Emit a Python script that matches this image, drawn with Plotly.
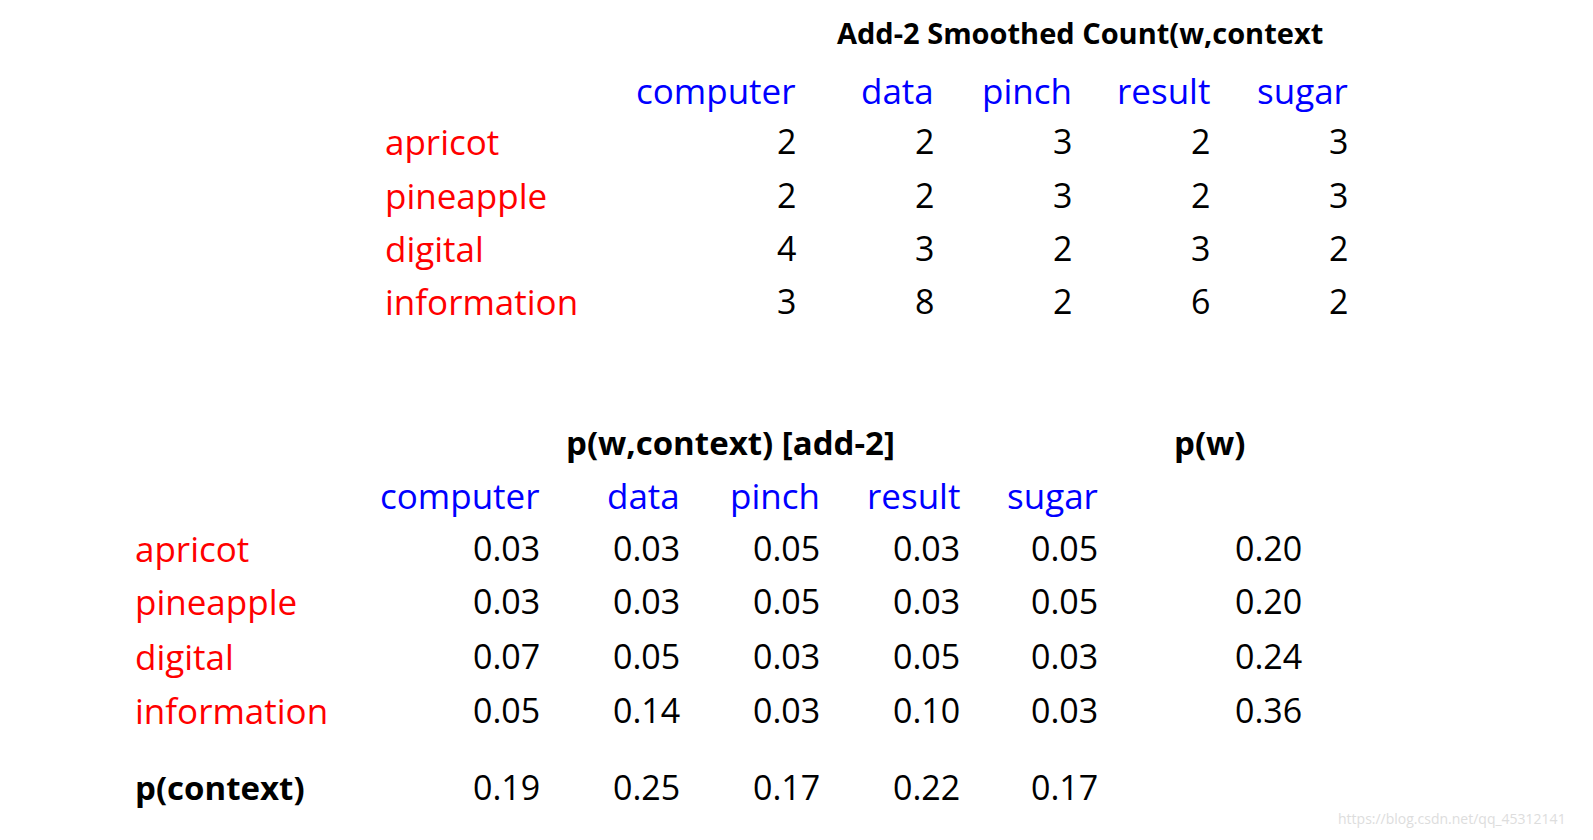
import plotly.graph_objects as go

contexts = ['computer', 'data', 'pinch', 'result', 'sugar']
words = ['apricot', 'pineapple', 'digital', 'information']
counts = [[2, 2, 3, 2, 3],
          [2, 2, 3, 2, 3],
          [4, 3, 2, 3, 2],
          [3, 8, 2, 6, 2]]
probs = [['0.03', '0.03', '0.05', '0.03', '0.05'],
         ['0.03', '0.03', '0.05', '0.03', '0.05'],
         ['0.07', '0.05', '0.03', '0.05', '0.03'],
         ['0.05', '0.14', '0.03', '0.10', '0.03']]
p_w = ['0.20', '0.20', '0.24', '0.36']
p_context = ['0.19', '0.25', '0.17', '0.22', '0.17']

FONT = 'Open Sans'
SIZE = 34
ann = []

# annotation boxes add a little padding, so nudge to line up with the reference
DX_R, DX_L, DY = 12, -7, -6

def txt(x, y, s, color='black', anchor='right', size=SIZE, bold=False):
    dx = DX_R if anchor == 'right' else DX_L if anchor == 'left' else 0
    ann.append(dict(x=x + dx, y=y + DY, text='<b>%s</b>' % s if bold else s, showarrow=False,
                    xanchor=anchor, yanchor='middle',
                    font=dict(family=FONT, size=size, color=color)))

# top table
top_cols = [778, 916, 1054, 1192, 1330]
top_rows = [139, 193, 246, 299]
txt(1072, 30, 'Add-2 Smoothed Count(w,context', anchor='center', size=29, bold=True)
for c, x in zip(contexts, top_cols):
    txt(x, 88, c, color='blue', size=35)
for w, y, row in zip(words, top_rows, counts):
    txt(382, y, w, color='red', anchor='left', size=35)
    for v, x in zip(row, top_cols):
        txt(x, y, str(v))

# bottom table
bot_cols = [522, 662, 802, 942, 1080]
bot_rows = [546, 599, 654, 708]
txt(722, 440, 'p(w,context) [add-2]', anchor='center', size=33, bold=True)
txt(1202, 440, 'p(w)', anchor='center', size=33, bold=True)
for c, x in zip(contexts, bot_cols):
    txt(x, 493, c, color='blue', size=35)
for w, y, row, pw in zip(words, bot_rows, probs, p_w):
    txt(132, y, w, color='red', anchor='left', size=35)
    for v, x in zip(row, bot_cols):
        txt(x, y, v)
    txt(1284, y, pw)
txt(132, 785, 'p(context)', anchor='left', size=33, bold=True)
for v, x in zip(p_context, bot_cols):
    txt(x, 785, v)
ann.append(dict(x=1560, y=810, text='https://blog.csdn.net/qq_45312141', showarrow=False,
                xanchor='right', yanchor='middle',
                font=dict(family=FONT, size=14, color='#dddddd')))

fig = go.Figure()
fig.update_layout(
    width=1593, height=840, margin=dict(l=0, r=0, t=0, b=0),
    paper_bgcolor='white', plot_bgcolor='white', annotations=ann,
    xaxis=dict(range=[0, 1593], visible=False),
    yaxis=dict(range=[840, 0], visible=False),
)
fig.write_html("out.html")
